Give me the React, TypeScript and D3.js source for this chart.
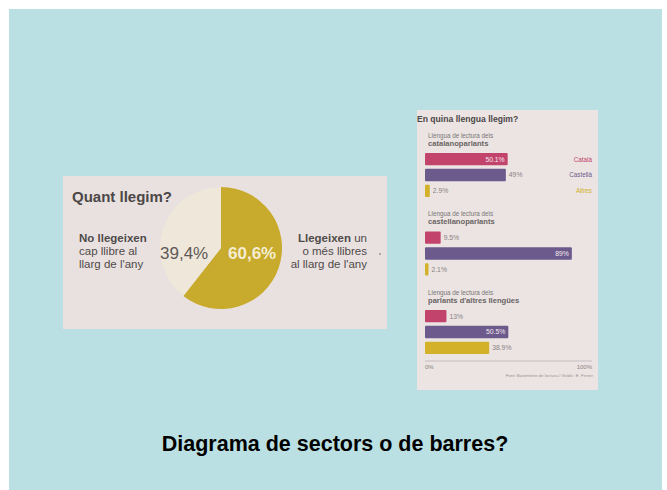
import React from "react";
import * as d3 from "d3";

// ---- Data ----
const pieCategories = ["Llegeixen", "No llegeixen"];
const pieValues = [60.6, 39.4];
const pieLabels = ["60,6%", "39,4%"];

const groups = ["catalanoparlants", "castellanoparlants", "parlants d'altres llengües"];
const languages = ["Català", "Castellà", "Altres"];
const catalaValues = [50.1, 9.5, 13];
const castellaValues = [49, 89, 50.5];
const altresValues = [2.9, 2.1, 38.9];
const valueLabels = [
  ["50.1%", "49%", "2.9%"],
  ["9.5%", "89%", "2.1%"],
  ["13%", "50.5%", "38.9%"],
];
const axisTicks = [0, 100];

const langColors = ["#c2436b", "#6c5a8c", "#d3b229"];
const FONT = "'Liberation Sans', Arial, sans-serif";

export default function App() {
  // Pie
  const cx = 221, cy = 248, r = 61;
  const pie = d3.pie<number>().sort(null).startAngle(0).endAngle(2 * Math.PI);
  const arcs = pie(pieValues);
  const arc = d3.arc<d3.PieArcDatum<number>>().innerRadius(0).outerRadius(r);
  const pieColors = ["#c8aa2c", "#efe7d9"];

  // Bars
  const x = d3.scaleLinear().domain([0, 100]).range([425, 590]);
  const sectionY = d3.scaleLinear().domain([0, 1]).range([135, 213.5]);
  const series = [catalaValues, castellaValues, altresValues];

  return (
    <svg width={667} height={490} style={{ position: "absolute", left: 0, top: 0 }}>
      <rect x={0} y={0} width={667} height={490} fill="#ffffff" />
      <rect x={9} y={9} width={653} height={481} fill="#bbe0e3" />

      {/* Left newspaper image */}
      <rect x={63} y={176} width={324} height={153} fill="#e9e1df" />
      <text x={72} y={202} fontFamily={FONT} fontWeight="bold" fontSize={15} fill="#4b4747">
        Quant llegim?
      </text>
      <g transform={`translate(${cx},${cy})`}>
        {arcs.map((a, i) => (
          <path key={pieCategories[i]} d={arc(a) || ""} fill={pieColors[i]} />
        ))}
      </g>
      <text x={160} y={259} fontFamily={FONT} fontSize={17} fill="#5e5959">
        {pieLabels[1]}
      </text>
      <text x={228} y={259} fontFamily={FONT} fontWeight="bold" fontSize={17} fill="#f4edd2">
        {pieLabels[0]}
      </text>
      <g fontFamily={FONT} fontSize={11.5} fill="#4f4a4a">
        <text x={79} y={242} fontWeight="bold">No llegeixen</text>
        <text x={79} y={255}>cap llibre al</text>
        <text x={79} y={268}>llarg de l'any</text>
        <text x={367} y={242} textAnchor="end">
          <tspan fontWeight="bold">Llegeixen</tspan> un
        </text>
        <text x={367} y={255} textAnchor="end">o més llibres</text>
        <text x={367} y={268} textAnchor="end">al llarg de l'any</text>
      </g>
      <circle cx={380} cy={254} r={1} fill="#9a9494" />

      {/* Right newspaper image */}
      <rect x={417} y={110} width={181} height={280} fill="#ebe4e3" />
      <text x={417} y={122} fontFamily={FONT} fontWeight="bold" fontSize={8.6} fill="#4b4747">
        En quina llengua llegim?
      </text>
      {groups.map((g, gi) => {
        const hy = 135 + gi * (sectionY(1) - sectionY(0));
        const band = d3
          .scaleBand<string>()
          .domain(languages)
          .range([hy + 18, hy + 62])
          .paddingInner(0.22);
        return (
          <g key={g}>
            <text x={428} y={hy + 2.5} fontFamily={FONT} fontSize={6.3} fill="#7a7474">
              Llengua de lectura dels
            </text>
            <text x={428} y={hy + 10.5} fontFamily={FONT} fontWeight="bold" fontSize={7.6} fill="#6a6464">
              {g}
            </text>
            {languages.map((lang, li) => {
              const v = series[li][gi];
              const y = band(lang) || 0;
              const bw = band.bandwidth();
              const inside = v >= 50;
              return (
                <g key={lang}>
                  <rect x={x(0)} y={y} width={x(v) - x(0)} height={bw} fill={langColors[li]} rx={1} />
                  <text
                    x={inside ? x(v) - 3 : x(v) + 3}
                    y={y + bw / 2 + 2.4}
                    textAnchor={inside ? "end" : "start"}
                    fontFamily={FONT}
                    fontSize={6.8}
                    fill={inside ? "#f3e9ee" : "#8a8282"}
                  >
                    {valueLabels[gi][li]}
                  </text>
                  {gi === 0 && (
                    <text
                      x={592}
                      y={y + bw / 2 + 2.4}
                      textAnchor="end"
                      fontFamily={FONT}
                      fontSize={6.3}
                      fill={langColors[li]}
                    >
                      {lang}
                    </text>
                  )}
                </g>
              );
            })}
          </g>
        );
      })}
      <line x1={x(0)} x2={592} y1={361} y2={361} stroke="#b8b0b0" strokeWidth={0.7} />
      {axisTicks.map((t, i) => (
        <text
          key={t}
          x={i === 0 ? x(t) : 592}
          y={369}
          textAnchor={i === 0 ? "start" : "end"}
          fontFamily={FONT}
          fontSize={6}
          fill="#8a8282"
        >
          {t}%
        </text>
      ))}
      <text x={593} y={377} textAnchor="end" fontFamily={FONT} fontSize={4.4} fill="#9a9292">
        Font: Baròmetre de lectura / Gràfic: E. Ferrer
      </text>

      {/* Slide title */}
      <text x={335} y={451} textAnchor="middle" fontFamily={FONT} fontWeight="bold" fontSize={21.5} fill="#000">
        Diagrama de sectors o de barres?
      </text>
    </svg>
  );
}
